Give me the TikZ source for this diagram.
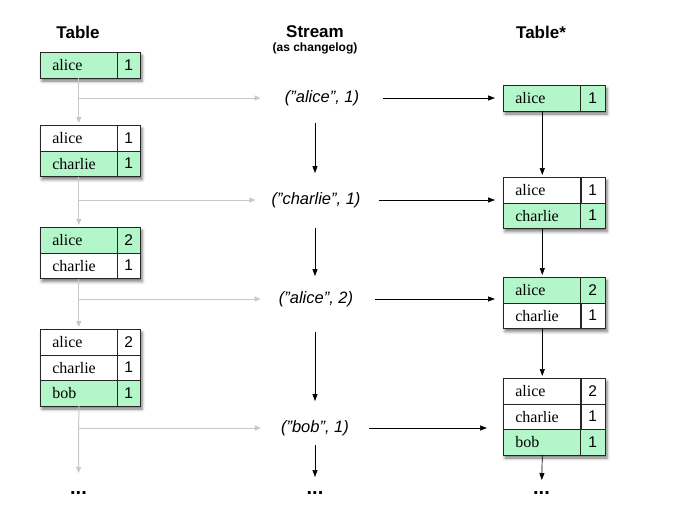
\documentclass[tikz,border=0pt]{standalone}
\usepackage{fontspec}
\setmainfont{Liberation Serif}
\setsansfont{Liberation Sans}
\usetikzlibrary{arrows.meta,shadows,shadows.blur}
\definecolor{rowgreen}{RGB}{178,246,202}
\definecolor{flowgray}{RGB}{200,200,200}
\tikzset{
  keycell/.style={draw=black!85, line width=0.6pt, anchor=north west, minimum height=25.5pt, text width=53pt, inner xsep=12pt, inner ysep=0pt, align=left, font=\fontsize{16}{16}\selectfont},
  valcell/.style={draw=black!85, line width=0.6pt, anchor=north west, minimum height=25.5pt, minimum width=23pt, inner sep=0pt, font=\sffamily\fontsize{15.5}{15.5}\selectfont},
  tframe/.style={draw=black!85, line width=0.8pt, fill=white, blur shadow={shadow xshift=2pt, shadow yshift=-3.5pt, shadow blur radius=3pt, shadow opacity=55}},
  hdr/.style={font=\sffamily\bfseries\fontsize{17}{17}\selectfont},
  sub/.style={font=\sffamily\bfseries\fontsize{12}{12}\selectfont},
  evt/.style={font=\sffamily\itshape\fontsize{16.5}{16.5}\selectfont, inner sep=2pt},
  dots/.style={font=\sffamily\bfseries\fontsize{20}{20}\selectfont, inner sep=0pt},
  grayarrow/.style={draw=flowgray, line width=1pt, -{Triangle[length=6pt,width=5pt]}},
  blackarrow/.style={draw=black, line width=0.7pt, -{Triangle[length=7pt,width=5pt]}},
}
\newcommand{\sq}{\symbol{34}}
\begin{document}
\begin{tikzpicture}[x=1pt,y=-1pt]
\useasboundingbox (0,0) rectangle (678,517);
% headers
\node[hdr] (h1) at (78,32) {Table};
\node[hdr] (h2) at (315,32) {Stream};
\node[sub] (h2b) at (315,48) {(as changelog)};
\node[hdr] (h3) at (541,32) {Table*};

% ---------- left tables ----------
\path[tframe] (40,52) rectangle (140,77.5);
\node[keycell, fill=rowgreen] (l1a) at (40,52) {alice};
\node[valcell, fill=rowgreen] (l1av) at (117,52) {1};
\path[tframe] (40,125) rectangle (140,176);
\node[keycell] (l2a) at (40,125) {alice};
\node[valcell] (l2av) at (117,125) {1};
\node[keycell, fill=rowgreen] (l2c) at (40,150.5) {charlie};
\node[valcell, fill=rowgreen] (l2cv) at (117,150.5) {1};
\path[tframe] (40,227) rectangle (140,278);
\node[keycell, fill=rowgreen] (l3a) at (40,227) {alice};
\node[valcell, fill=rowgreen] (l3av) at (117,227) {2};
\node[keycell] (l3c) at (40,252.5) {charlie};
\node[valcell] (l3cv) at (117,252.5) {1};
\path[tframe] (40,329) rectangle (140,405.5);
\node[keycell] (l4a) at (40,329) {alice};
\node[valcell] (l4av) at (117,329) {2};
\node[keycell] (l4c) at (40,354.5) {charlie};
\node[valcell] (l4cv) at (117,354.5) {1};
\node[keycell, fill=rowgreen] (l4b) at (40,380) {bob};
\node[valcell, fill=rowgreen] (l4bv) at (117,380) {1};
\node[dots] (ld) at (78.5,493) {...};

% ---------- right tables ----------
\path[tframe] (503,85) rectangle (605,110.5);
\node[keycell, fill=rowgreen, text width=54pt] (r1a) at (503,85) {alice};
\node[valcell, fill=rowgreen, minimum width=25pt] (r1av) at (580,85) {1};
\path[tframe] (503,177) rectangle (605,228);
\node[keycell, text width=54pt] (r2a) at (503,177) {alice};
\node[valcell, minimum width=25pt] (r2av) at (580,177) {1};
\node[keycell, fill=rowgreen, text width=54pt] (r2c) at (503,202.5) {charlie};
\node[valcell, fill=rowgreen, minimum width=25pt] (r2cv) at (580,202.5) {1};
\path[tframe] (503,277) rectangle (605,328);
\node[keycell, fill=rowgreen, text width=54pt] (r3a) at (503,277) {alice};
\node[valcell, fill=rowgreen, minimum width=25pt] (r3av) at (580,277) {2};
\node[keycell, text width=54pt] (r3c) at (503,302.5) {charlie};
\node[valcell, minimum width=25pt] (r3cv) at (580,302.5) {1};
\path[tframe] (503,378) rectangle (605,454.5);
\node[keycell, text width=54pt] (r4a) at (503,378) {alice};
\node[valcell, minimum width=25pt] (r4av) at (580,378) {2};
\node[keycell, text width=54pt] (r4c) at (503,403.5) {charlie};
\node[valcell, minimum width=25pt] (r4cv) at (580,403.5) {1};
\node[keycell, fill=rowgreen, text width=54pt] (r4b) at (503,429) {bob};
\node[valcell, fill=rowgreen, minimum width=25pt] (r4bv) at (580,429) {1};
\node[dots] (rd) at (541.5,493) {...};

% ---------- stream events ----------
\node[evt] (s1) at (322,98) {(\sq alice\sq, 1)};
\node[evt] (s2) at (316,200) {(\sq charlie\sq, 1)};
\node[evt] (s3) at (316,299) {(\sq alice\sq, 2)};
\node[evt] (s4) at (315,428) {(\sq bob\sq, 1)};
\node[dots] (sd) at (315,493) {...};

% ---------- left gray flow ----------
\coordinate (b1) at (78.5,98);
\coordinate (b2) at (78.5,200);
\coordinate (b3) at (78.5,299);
\coordinate (b4) at (78.5,428);
\draw[grayarrow, shorten >=2pt] (l1a.south) -- (l2a.north);
\draw[grayarrow, shorten >=2pt] (l2c.south) -- (l3a.north);
\draw[grayarrow, shorten >=2pt] (l3c.south) -- (l4a.north);
\draw[grayarrow, shorten >=20pt] (l4b.south) -- (ld.center);
\draw[grayarrow, shorten >=22pt] (b1) -- (s1.west);
\draw[grayarrow, shorten >=14pt] (b2) -- (s2.west);
\draw[grayarrow, shorten >=16pt] (b3) -- (s3.west);
\draw[grayarrow, shorten >=18pt] (b4) -- (s4.west);

% ---------- stream downward ----------
\draw[blackarrow, shorten <=15pt, shorten >=17pt] (s1.south -| sd.center) -- (s2.north -| sd.center);
\draw[blackarrow, shorten <=18pt, shorten >=13pt] (s2.south -| sd.center) -- (s3.north -| sd.center);
\draw[blackarrow, shorten <=23pt, shorten >=17pt] (s3.south -| sd.center) -- (s4.north -| sd.center);
\draw[blackarrow, shorten <=7pt, shorten >=16pt] (s4.south -| sd.center) -- (sd.center);

% ---------- stream to right tables ----------
\draw[blackarrow, shorten <=22pt, shorten >=8pt] (s1.east) -- (s1.east -| r1a.west);
\draw[blackarrow, shorten <=16pt, shorten >=8pt] (s2.east) -- (s2.east -| r2c.west);
\draw[blackarrow, shorten <=20pt, shorten >=8pt] (s3.east) -- (s3.east -| r3a.west);
\draw[blackarrow, shorten <=18pt, shorten >=16pt] (s4.east) -- (s4.east -| r4b.west);

% ---------- right downward ----------
\draw[blackarrow, shorten >=2pt] (r1a.south) -- (r2a.north);
\draw[blackarrow, shorten >=2pt] (r2c.south) -- (r3a.north);
\draw[blackarrow, shorten >=2pt] (r3c.south) -- (r4a.north);
\draw[blackarrow, shorten >=13pt] (r4b.south) -- (rd.center);
\end{tikzpicture}
\end{document}
